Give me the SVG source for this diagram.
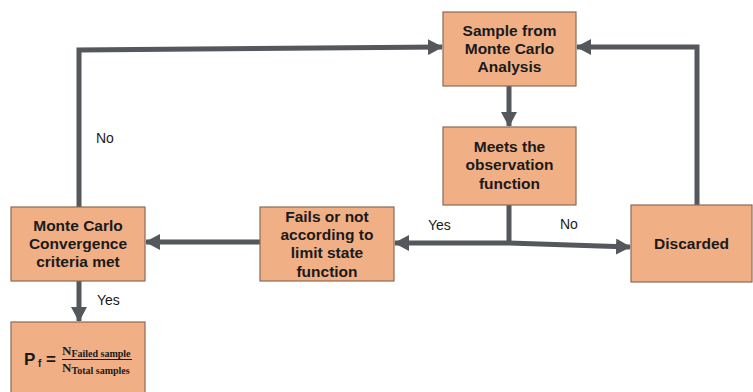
<svg xmlns="http://www.w3.org/2000/svg" width="753" height="392" viewBox="0 0 753 392">
  <style>
    .box { fill: #F1AF86; stroke: #8C6A55; stroke-width: 1.2; }
    .lbl { font-family: "Liberation Sans", Arial, sans-serif; font-weight: bold; font-size: 15.5px; fill: #1a1a1a; text-anchor: middle; }
    .edge-lbl { font-family: "Liberation Sans", Arial, sans-serif; font-size: 14px; fill: #1a1a1a; }
    .conn { fill: none; stroke: #54575C; stroke-width: 5; stroke-linejoin: miter; }
    .frac { font-family: "Liberation Serif", "Times New Roman", serif; font-weight: bold; fill: #1a1a1a; }
  </style>
  <defs>
    <marker id="arrow" markerUnits="userSpaceOnUse" markerWidth="16" markerHeight="16" refX="14" refY="8" orient="auto">
      <path d="M0,0 L15,8 L0,16 z" fill="#54575C"/>
    </marker>
  </defs>

  <rect width="753" height="392" fill="#ffffff"/>

  <g id="connectors">
    <!-- sample -> observation check -->
    <path class="conn" d="M509,86 L509,126" marker-end="url(#arrow)"/>
    <!-- observation check branches -->
    <path class="conn" d="M509,205 L509,243"/>
    <path class="conn" d="M509,243 L395,243" marker-end="url(#arrow)"/>
    <path class="conn" d="M509,243 L630,247" marker-end="url(#arrow)"/>
    <!-- discarded back to sampling -->
    <path class="conn" d="M697,205 L697,47 L577,47" marker-end="url(#arrow)"/>
    <!-- limit state -> convergence -->
    <path class="conn" d="M260,242 L146,242" marker-end="url(#arrow)"/>
    <!-- convergence not met -> sample again -->
    <path class="conn" d="M79,207 L79,50 L442,47" marker-end="url(#arrow)"/>
    <!-- convergence met -> probability of failure -->
    <path class="conn" d="M79,281 L79,321" marker-end="url(#arrow)"/>
  </g>

  <g id="edge-labels">
    <text class="edge-lbl" x="96" y="143">No</text>
    <text class="edge-lbl" x="97" y="305">Yes</text>
    <text class="edge-lbl" x="428" y="230">Yes</text>
    <text class="edge-lbl" x="560" y="229">No</text>
  </g>

  <g id="sample">
    <rect class="box" x="443" y="12" width="133" height="74"/>
    <text class="lbl" x="509.5" y="36">Sample from</text>
    <text class="lbl" x="509.5" y="54">Monte Carlo</text>
    <text class="lbl" x="509.5" y="72">Analysis</text>
  </g>

  <g id="observation">
    <rect class="box" x="443" y="127" width="133" height="78"/>
    <text class="lbl" x="509.5" y="152">Meets the</text>
    <text class="lbl" x="509.5" y="170">observation</text>
    <text class="lbl" x="509.5" y="189">function</text>
  </g>

  <g id="discarded">
    <rect class="box" x="631" y="205" width="121" height="77"/>
    <text class="lbl" x="691.5" y="249">Discarded</text>
  </g>

  <g id="limit-state">
    <rect class="box" x="260" y="207" width="134" height="74"/>
    <text class="lbl" x="327" y="222">Fails or not</text>
    <text class="lbl" x="327" y="240">according to</text>
    <text class="lbl" x="327" y="258">limit state</text>
    <text class="lbl" x="327" y="277">function</text>
  </g>

  <g id="convergence">
    <rect class="box" x="11" y="207" width="134" height="74"/>
    <text class="lbl" x="78" y="231">Monte Carlo</text>
    <text class="lbl" x="78" y="249">Convergence</text>
    <text class="lbl" x="78" y="267">criteria met</text>
  </g>

  <g id="failure-probability">
    <rect class="box" x="11" y="322" width="134" height="72"/>
    <text x="24" y="365" font-family="Liberation Sans, Arial, sans-serif" font-weight="bold" font-size="17" fill="#1a1a1a">P</text>
    <text x="38" y="367" font-family="Liberation Sans, Arial, sans-serif" font-weight="bold" font-size="10" fill="#1a1a1a">f</text>
    <text x="46" y="365" font-family="Liberation Sans, Arial, sans-serif" font-weight="bold" font-size="17" fill="#1a1a1a">=</text>
    <text class="frac" x="62" y="355" font-size="13">N<tspan font-size="10" dy="2">Failed sample</tspan></text>
    <line x1="62" y1="359.5" x2="132" y2="359.5" stroke="#1a1a1a" stroke-width="1"/>
    <text class="frac" x="62" y="372" font-size="13">N<tspan font-size="10" dy="2">Total samples</tspan></text>
  </g>
</svg>
